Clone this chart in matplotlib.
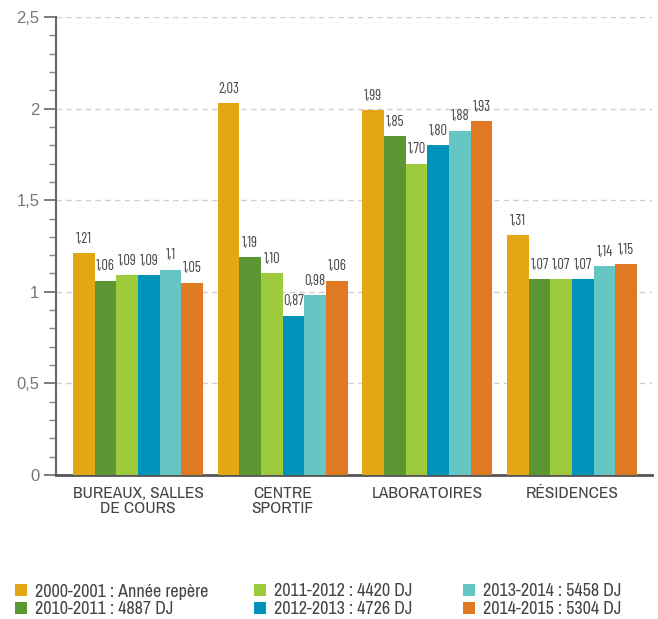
import matplotlib
matplotlib.use("Agg")
import matplotlib.pyplot as plt
from matplotlib.patches import Rectangle
import numpy as np

plt.rcParams['font.family'] = ['Archivo Narrow', 'DejaVu Sans']

categories = ["BUREAUX, SALLES\nDE COURS", "CENTRE\nSPORTIF", "LABORATOIRES", "RÉSIDENCES"]
series_names = ["2000-2001 : Année repère", "2010-2011 : 4887 DJ", "2011-2012 : 4420 DJ",
                "2012-2013 : 4726 DJ", "2013-2014 : 5458 DJ", "2014-2015 : 5304 DJ"]
colors = ["#E3A614", "#5B9632", "#9ECB3B", "#0093BA", "#66C6C3", "#E07A22"]

s2000 = [1.21, 2.03, 1.99, 1.31]
s2010 = [1.06, 1.19, 1.85, 1.07]
s2011 = [1.09, 1.10, 1.70, 1.07]
s2012 = [1.09, 0.87, 1.80, 1.07]
s2013 = [1.12, 0.98, 1.88, 1.14]
s2014 = [1.05, 1.06, 1.93, 1.15]
series = [s2000, s2010, s2011, s2012, s2013, s2014]

labels = [["1,21", "2,03", "1,99", "1,31"],
          ["1,06", "1,19", "1,85", "1,07"],
          ["1,09", "1,10", "1,70", "1,07"],
          ["1,09", "0,87", "1,80", "1,07"],
          ["1,1", "0,98", "1,88", "1,14"],
          ["1,05", "1,06", "1,93", "1,15"]]

W, H = 658, 619
fig = plt.figure(figsize=(W / 100, H / 100), dpi=100)
ax = fig.add_axes([56 / W, 1 - 475 / H, 596 / W, 458 / H])

x = np.arange(len(categories))
w = 0.15
for i, (vals, c) in enumerate(zip(series, colors)):
    pos = x + (i - 2.5) * w
    ax.bar(pos, vals, width=w, color=c, zorder=3)
    for p, v, t in zip(pos, vals, labels[i]):
        ax.text(p, v + 0.04, t, ha='center', va='bottom', fontsize=10.5,
                color='#444444', family=['Barlow Condensed', 'DejaVu Sans'])

ax.set_xlim(-0.567, 3.553)
ax.set_ylim(0, 2.5)
ax.set_yticks([0, 0.5, 1, 1.5, 2, 2.5])
ax.set_yticklabels(["0", "0,5", "1", "1,5", "2", "2,5"], family=['Liberation Sans', 'DejaVu Sans'])
ax.set_yticks(np.arange(0, 2.5, 0.1), minor=True)
ax.tick_params(axis='y', which='major', length=9, width=1.2, color='#666666',
               labelsize=12, labelcolor='#777777', pad=3)
ax.tick_params(axis='y', which='minor', length=5, width=1, color='#888888')
ax.set_xticks(x)
ax.set_xticklabels(categories, fontsize=12.5, color='#444444', linespacing=1.0)
ax.tick_params(axis='x', length=0, pad=8)

ax.yaxis.grid(True, which='major', linestyle=(0, (4, 3)), color='#d0d0d0', linewidth=1, zorder=0)
for s in ['top', 'right']:
    ax.spines[s].set_visible(False)
ax.spines['left'].set_color('#666666')
ax.spines['left'].set_linewidth(1.5)
ax.spines['bottom'].set_color('#555555')
ax.spines['bottom'].set_linewidth(2)

# legend laid out by hand: 3 columns x 2 rows
col_x = [15, 254, 463]
row_y = [590, 608]
sq = 12
for k, (name, c) in enumerate(zip(series_names, colors)):
    cx = col_x[k // 2]
    cy = row_y[k % 2]
    fig.add_artist(Rectangle((cx / W, 1 - (cy + sq / 2) / H), sq / W, sq / H,
                             facecolor=c, edgecolor='none', transform=fig.transFigure))
    fig.text((cx + sq + 8) / W, 1 - cy / H, name, ha='left', va='center_baseline',
             fontsize=13, color='#444444')

fig.savefig("out.png", dpi=100)
